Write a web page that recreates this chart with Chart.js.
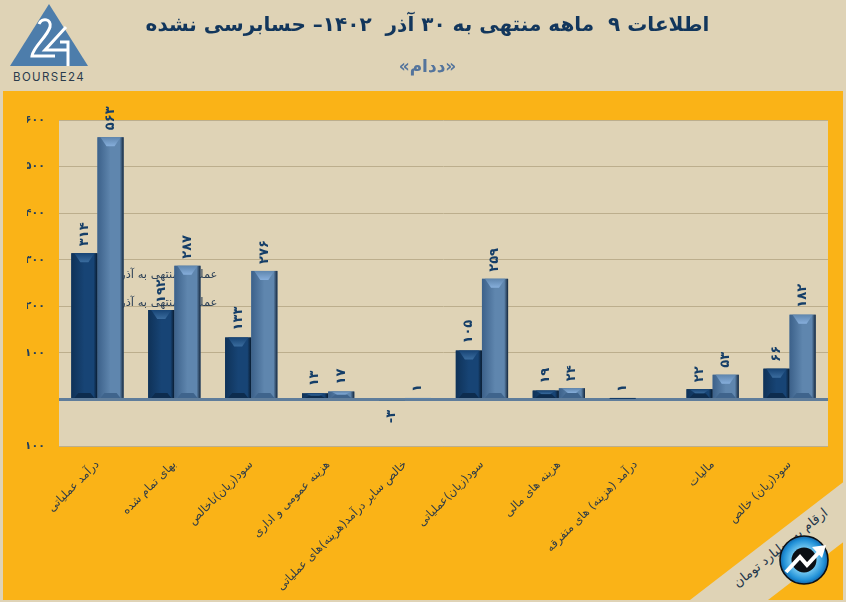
<!DOCTYPE html>
<html lang="fa">
<head>
<meta charset="utf-8">
<title>ددام</title>
<script src="https://cdn.jsdelivr.net/npm/chart.js@4"></script>
<style>
  html, body { margin: 0; padding: 0; background: #dfd3b6; }
  #page { position: relative; width: 846px; height: 602px; overflow: hidden; background: #dfd3b6; }
  #panel { position: absolute; left: 3px; top: 91px; width: 840px; height: 509px; background: #fab317; }
  #corner, #logo { position: absolute; left: 0; top: 0; }
  canvas { position: absolute; left: 0; top: 0; }
</style>
</head>
<body>
<div id="page">
  <div id="panel"></div>
  <svg id="corner" width="846" height="602">
    <defs>
      <radialGradient id="ball" cx="50%" cy="50%" r="50%">
        <stop offset="0.45" stop-color="#7fd0f5"/>
        <stop offset="0.85" stop-color="#1f8fd6"/>
        <stop offset="1" stop-color="#1565a8"/>
      </radialGradient>
    </defs>
    <polygon points="846,480 846,540 768,600 690,600" fill="#dfd3b6"/>
    <text x="783" y="551" transform="rotate(-39 783 551)" text-anchor="middle" direction="rtl"
          font-family="DejaVu Sans" font-size="13" fill="#24364a">ارقام به میلیارد تومان</text>
    <circle cx="804" cy="560" r="24" fill="url(#ball)" stroke="#0b0f14" stroke-width="1.6"/>
    <circle cx="804" cy="560" r="12.5" fill="#0b0f14"/>
    <polyline points="786,572 800,557 807,565 821,550" fill="none" stroke="#fff" stroke-width="4"/>
    <polygon points="826,545 812,547 822,558" fill="#fff"/>
  </svg>
  <svg id="logo" width="100" height="90">
    <polygon points="49,4 88,66 10,66" fill="#4d7dab"/>
    <path d="M39,24 C42,17 52,19 50,27 C47,37 33,47 32,56 L55,56" fill="none" stroke="#fff" stroke-width="3"/>
    <path d="M68,66 L68,42 L60,42 M66,27 L45,50 L69,50" fill="none" stroke="#fff" stroke-width="3"/>
    <text x="49" y="81" text-anchor="middle" font-family="Inter" font-size="11.5" letter-spacing="1.4" fill="#2a3b4c">BOURSE24</text>
  </svg>
  <canvas id="grafico" width="846" height="602"></canvas>
</div>
<script>
const categories = [
  'درآمد عملیاتی', 'بهای تمام شده', 'سود(زیان)ناخالص', 'هزینه عمومی و اداری',
  'خالص سایر درآمد(هزینه)های عملیاتی', 'سود(زیان)عملیاتی', 'هزینه های مالی',
  'درآمد (هزینه) های متفرقه', 'مالیات', 'سود(زیان) خالص'
];
const perf1401 = [314, 192, 133, 13, -3, 105, 19, 1, 22, 66];
const perf1402 = [563, 287, 276, 17, 1, 259, 24, null, 53, 182];
const seriesNames = ['عملکرد منتهی به آذر ۱۴۰۱', 'عملکرد منتهی به آذر ۱۴۰۲'];
const yTicks = [-100, 100, 200, 300, 400, 500, 600];

const mainTitle = 'اطلاعات ۹  ماهه منتهی به ۳۰ آذر  ۱۴۰۲– حسابرسی نشده';
const subTitle = '«ددام»';

const FONT = '"DejaVu Sans"';

// 0-9 a digitos persas
function toFa(n) {
  return String(n).replace(/\d/g, d => '۰۱۲۳۴۵۶۷۸۹'[d]);
}

// Colores del bisel de cada serie
const bevels = [
  { edgeL: '#0f3258', mid: '#174475', edgeR: '#081a2e', top: '#3a6c9e', bottom: '#0d2c4e' },
  { edgeL: '#3c618a', mid: '#5f86ae', edgeR: '#14263b', top: '#86aedb', bottom: '#3f648c' }
];

const plotBackground = {
  id: 'plotBackground',
  beforeDatasetsDraw(chart) {},
  beforeDraw(chart) {
    const { ctx, chartArea: a } = chart;
    ctx.save();
    ctx.fillStyle = '#dfd3b6';
    ctx.fillRect(a.left, a.top, a.right - a.left, a.bottom - a.top);
    ctx.restore();
  }
};

const bevelBars = {
  id: 'bevelBars',
  afterDatasetsDraw(chart) {
    const ctx = chart.ctx;
    chart.data.datasets.forEach((ds, i) => {
      const c = bevels[i];
      chart.getDatasetMeta(i).data.forEach((bar, j) => {
        const v = ds.data[j];
        if (v === null) return;
        const left = bar.x - bar.width / 2, right = bar.x + bar.width / 2;
        const top = Math.min(bar.y, bar.base), bottom = Math.max(bar.y, bar.base);
        const h = bottom - top;

        if (v > 1) {
          const g = ctx.createLinearGradient(left, 0, right, 0);
          g.addColorStop(0, c.edgeL);
          g.addColorStop(0.5, c.mid);
          g.addColorStop(0.85, c.mid);
          g.addColorStop(1, c.edgeR);
          ctx.save();
          ctx.fillStyle = g;
          ctx.fillRect(left, top, bar.width, h);

          const d = Math.min(h / 2, 9);
          const tg = ctx.createLinearGradient(0, top, 0, top + d);
          tg.addColorStop(0, c.mid);
          tg.addColorStop(1, c.top);
          ctx.fillStyle = tg;
          ctx.beginPath();
          ctx.moveTo(left + 3, top);
          ctx.lineTo(right - 3, top);
          ctx.lineTo(bar.x + 4, top + d);
          ctx.lineTo(bar.x - 4, top + d);
          ctx.closePath();
          ctx.fill();

          const b = Math.min(h / 2, 5);
          ctx.fillStyle = c.bottom;
          ctx.beginPath();
          ctx.moveTo(left + 3, bottom);
          ctx.lineTo(right - 3, bottom);
          ctx.lineTo(right - 7, bottom - b);
          ctx.lineTo(left + 7, bottom - b);
          ctx.closePath();
          ctx.fill();
          ctx.restore();
        }

        // Etiqueta de valor, girada
        ctx.save();
        ctx.translate(bar.x, v < 0 ? bar.y + 9 : bar.y - 7);
        ctx.rotate(-Math.PI / 2);
        ctx.direction = 'ltr';
        ctx.font = 'bold 13px ' + FONT;
        ctx.fillStyle = '#153e68';
        ctx.textBaseline = 'middle';
        ctx.textAlign = v < 0 ? 'right' : 'left';
        ctx.fillText(toFa(v), 0, 0);
        ctx.restore();
      });
    });
  }
};

new Chart(document.getElementById('grafico'), {
  type: 'bar',
  data: {
    labels: categories,
    datasets: [
      { label: seriesNames[0], data: perf1401, backgroundColor: '#123a66', categoryPercentage: 0.68, barPercentage: 1 },
      { label: seriesNames[1], data: perf1402, backgroundColor: '#5a80a8', categoryPercentage: 0.68, barPercentage: 1 }
    ]
  },
  plugins: [plotBackground, bevelBars],
  options: {
    responsive: false,
    animation: false,
    layout: { padding: { left: 27, right: 18, top: 0, bottom: 0 } },
    plugins: {
      title: {
        display: true,
        text: mainTitle,
        color: '#12365c',
        font: { family: FONT, size: 20, weight: 'bold', lineHeight: 1.2 },
        padding: { top: 14, bottom: 0 }
      },
      subtitle: {
        display: true,
        text: subTitle,
        color: '#54749c',
        font: { family: FONT, size: 17, weight: 'bold', lineHeight: 1.2 },
        padding: { top: 19, bottom: 42.6 }
      },
      legend: {
        position: 'chartArea',
        align: 'end',
        labels: {
          color: '#2b3f55',
          font: { family: FONT, size: 11.5 },
          boxWidth: 10,
          boxHeight: 10,
          padding: 17
        }
      },
      tooltip: { enabled: false }
    },
    scales: {
      x: {
        grid: { display: false },
        border: { display: false },
        afterFit: s => { s.height = 156; },
        ticks: {
          autoSkip: false,
          minRotation: 45,
          maxRotation: 45,
          padding: 4,
          color: '#2e3c48',
          font: { family: FONT, size: 11.5 }
        }
      },
      y: {
        min: -100,
        max: 600,
        afterFit: s => { s.width = 32; },
        border: { display: false },
        grid: {
          drawTicks: false,
          color: c => (c.tick.value === 0 ? '#5f7d9b' : '#bcae8d'),
          lineWidth: c => (c.tick.value === 0 ? 3 : 1)
        },
        ticks: {
          stepSize: 100,
          padding: 14,
          color: '#22405e',
          font: { family: FONT, size: 11, weight: 'bold' },
          callback: v => (yTicks.includes(v) ? toFa(v) : '')
        }
      }
    }
  }
});
</script>
</body>
</html>
